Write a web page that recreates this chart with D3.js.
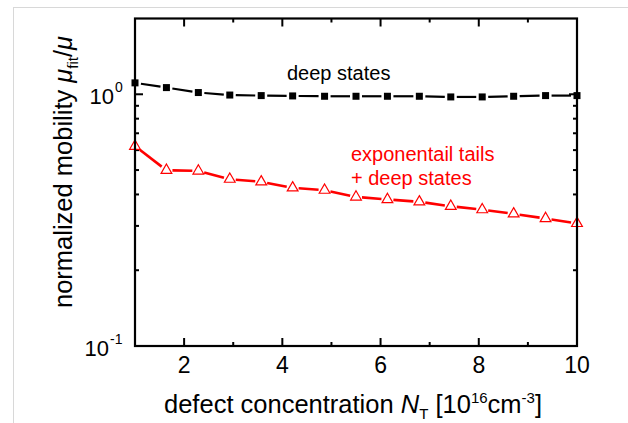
<!DOCTYPE html>
<html lang="en">
  <head>
    <meta charset="UTF-8" />
    <title>Normalized mobility vs defect concentration</title>
    <script src="https://d3js.org/d3.v7.min.js"></script>
    <style>
      body { margin: 0; background: #fff; }
      text { font-family: "Liberation Sans", Arial, sans-serif; }
    </style>
  </head>
  <body>
    <svg id="chart" width="628" height="423"></svg>
    <script>
      // defect concentration N_T [1e16 cm^-3]
      const conc = [1, 1.64, 2.29, 2.93, 3.57, 4.21, 4.86, 5.5, 6.14, 6.79, 7.43, 8.07, 8.71, 9.36, 10];
      const deepStates = [1.11, 1.063, 1.016, 0.993, 0.988, 0.985, 0.982, 0.982, 0.982, 0.982, 0.976, 0.976, 0.982, 0.988, 0.988];
      const expTails = [0.622, 0.499, 0.496, 0.46, 0.449, 0.425, 0.416, 0.391, 0.382, 0.374, 0.359, 0.348, 0.335, 0.321, 0.307];
      const xMajor = [2, 4, 6, 8, 10];
      const xMinor = [3, 5, 7, 9];
      const yMinor = [0.2, 0.3, 0.4, 0.5, 0.6, 0.7, 0.8, 0.9];

      const svg = d3.select("#chart");
      const m = { left: 135, right: 51, top: 18.5, bottom: 77 };
      const W = 628, H = 423;

      // faint frame
      svg.append("rect").attr("x", 13.5).attr("y", 7.5)
        .attr("width", 640).attr("height", 440)
        .attr("fill", "none").attr("stroke", "#d8d8d8");

      const x = d3.scaleLinear().domain([1, 10]).range([m.left, W - m.right]);
      const y = d3.scaleLog().domain([0.1, 2]).range([H - m.bottom, m.top]);

      const g = svg.append("g");

      // ticks (inward)
      function ticks(vals, len, where) {
        vals.forEach((v) => {
          if (where === "bottom" || where === "top") {
            const y0 = where === "bottom" ? y.range()[0] : y.range()[1];
            const dir = where === "bottom" ? -1 : 1;
            g.append("line").attr("x1", x(v)).attr("x2", x(v))
              .attr("y1", y0).attr("y2", y0 + dir * len)
              .attr("stroke", "#000").attr("stroke-width", 2);
          } else {
            const x0 = where === "left" ? x.range()[0] : x.range()[1];
            const dir = where === "left" ? 1 : -1;
            g.append("line").attr("y1", y(v)).attr("y2", y(v))
              .attr("x1", x0).attr("x2", x0 + dir * len)
              .attr("stroke", "#000").attr("stroke-width", 2);
          }
        });
      }
      ticks(xMajor, 8, "bottom");
      ticks(xMinor, 4, "bottom");
      ticks(xMajor, 8, "top");
      ticks(xMinor, 4, "top");
      ticks([1], 8, "left");
      ticks(yMinor, 4, "left");
      ticks([1], 8, "right");
      ticks(yMinor, 4, "right");

      // series
      const gap = 6;
      function drawSeries(vals, color, sw) {
        const pts = conc.map((c, i) => [x(c), y(vals[i])]);
        for (let i = 0; i < pts.length - 1; i++) {
          const [x1, y1] = pts[i], [x2, y2] = pts[i + 1];
          const dx = x2 - x1, dy = y2 - y1, L = Math.hypot(dx, dy);
          const ux = dx / L, uy = dy / L;
          g.append("line")
            .attr("x1", x1 + ux * gap).attr("y1", y1 + uy * gap)
            .attr("x2", x2 - ux * gap).attr("y2", y2 - uy * gap)
            .attr("stroke", color).attr("stroke-width", sw);
        }
        return pts;
      }

      const blackPts = drawSeries(deepStates, "#000", 2.2);
      g.selectAll(".sq").data(blackPts).enter().append("rect")
        .attr("x", (d) => d[0] - 3.5).attr("y", (d) => d[1] - 3.5)
        .attr("width", 7).attr("height", 7).attr("fill", "#000");

      const redPts = drawSeries(expTails, "#ff0000", 2.6);
      const tri = d3.symbol().type(d3.symbolTriangle).size(50);
      g.selectAll(".tri").data(redPts).enter().append("path")
        .attr("d", tri)
        .attr("transform", (d) => `translate(${d[0]},${d[1]})`)
        .attr("fill", "#fff").attr("stroke", "#ff0000").attr("stroke-width", 1.2);

      // frame axes
      g.append("rect").attr("x", x.range()[0]).attr("y", y.range()[1])
        .attr("width", x.range()[1] - x.range()[0])
        .attr("height", y.range()[0] - y.range()[1])
        .attr("fill", "none").attr("stroke", "#000").attr("stroke-width", 2.2);

      // tick labels
      g.selectAll(".xl").data(xMajor).enter().append("text")
        .attr("x", (d) => x(d)).attr("y", 373)
        .attr("text-anchor", "middle").attr("font-size", 23).text((d) => d);

      [[1, "0", 114], [0.1, "-1", 109]].forEach(([v, e, xe]) => {
        g.append("text").attr("x", xe).attr("y", y(v) + 10)
          .attr("text-anchor", "end").attr("font-size", 22).text("10");
        g.append("text").attr("x", xe + 1).attr("y", y(v) - 2)
          .attr("font-size", 14).text(e);
      });

      // annotations
      g.append("text").attr("x", 287).attr("y", 80).attr("font-size", 20).text("deep states");
      g.append("text").attr("x", 351).attr("y", 161).attr("font-size", 20)
        .attr("fill", "#ff0000").text("exponentail tails");
      g.append("text").attr("x", 351).attr("y", 185).attr("font-size", 20)
        .attr("fill", "#ff0000").text("+ deep states");

      // x label
      const xl = g.append("text").attr("x", 353).attr("y", 413)
        .attr("text-anchor", "middle").attr("font-size", 25.5);
      xl.append("tspan").text("defect concentration ");
      xl.append("tspan").attr("font-style", "italic").text("N");
      xl.append("tspan").attr("dy", 6).attr("font-size", 15).text("T");
      xl.append("tspan").attr("dy", -6).text(" [10");
      xl.append("tspan").attr("dy", -10).attr("font-size", 15).text("16");
      xl.append("tspan").attr("dy", 10).text("cm");
      xl.append("tspan").attr("dy", -10).attr("font-size", 15).text("-3");
      xl.append("tspan").attr("dy", 10).text("]");

      // y label
      const yl = g.append("text").attr("transform", "translate(72,172) rotate(-90)")
        .attr("text-anchor", "middle").attr("font-size", 25.5);
      yl.append("tspan").text("normalized mobility ");
      yl.append("tspan").attr("font-style", "italic").text("\u03bc");
      yl.append("tspan").attr("dy", 6).attr("font-size", 15).text("fit");
      yl.append("tspan").attr("dy", -6).text("/");
      yl.append("tspan").attr("font-style", "italic").text("\u03bc");
    </script>
  </body>
</html>
